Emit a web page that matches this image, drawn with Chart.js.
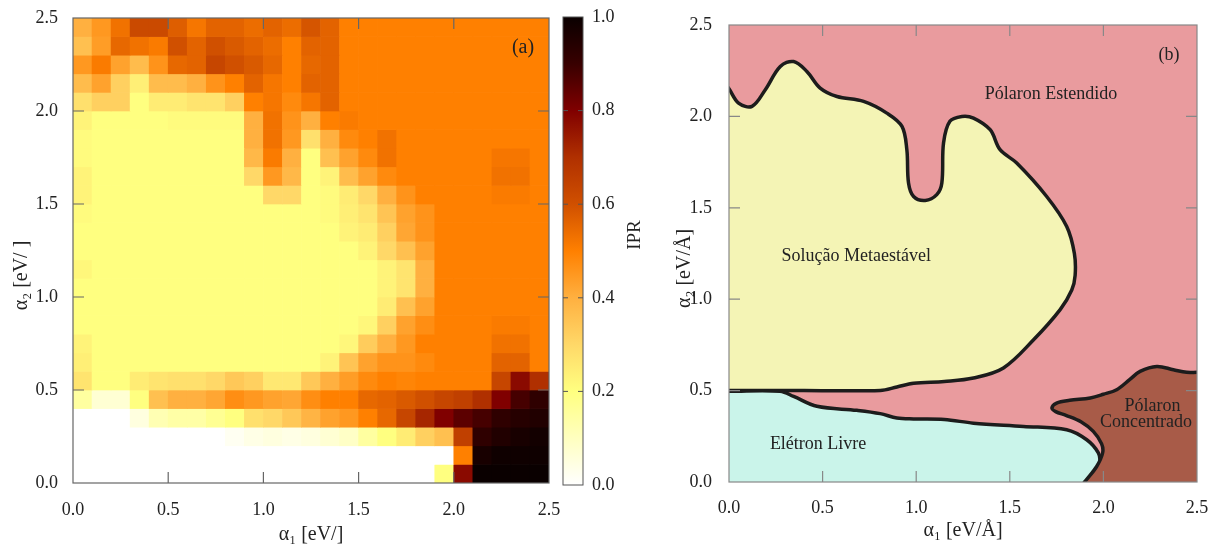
<!DOCTYPE html>
<html>
<head>
<meta charset="utf-8">
<script src="https://cdn.jsdelivr.net/npm/chart.js@4.4.0/dist/chart.umd.min.js"></script>
<style>
  body { margin: 0; background: #fff; width: 1220px; height: 547px; position: relative; overflow: hidden; }
  canvas { position: absolute; top: 0; }
  #iprMap { left: 0; }
  #iprBar { left: 550px; }
  #phases { left: 650px; }
</style>
</head>
<body>
<canvas id="iprMap" width="560" height="547"></canvas>
<canvas id="iprBar" width="120" height="547"></canvas>
<canvas id="phases" width="570" height="547"></canvas>
<script>
// cell centres of the IPR grid (0.1 x 0.1 cells)
const alpha1Cells = [0.05, 0.15, 0.25, 0.35, 0.45, 0.55, 0.65, 0.75, 0.85, 0.95, 1.05, 1.15, 1.25,
  1.35, 1.45, 1.55, 1.65, 1.75, 1.85, 1.95, 2.05, 2.15, 2.25, 2.35, 2.45];
const alpha2Cells = [2.45, 2.35, 2.25, 2.15, 2.05, 1.95, 1.85, 1.75, 1.65, 1.55, 1.45, 1.35, 1.25,
  1.15, 1.05, 0.95, 0.85, 0.75, 0.65, 0.55, 0.45, 0.35, 0.25, 0.15, 0.05];
const cellHalf = 0.05;

// IPR, one row per alpha2 cell (top row first)
const ipr = [
  [.40,.45,.53,.62,.62,.57,.52,.56,.56,.54,.56,.54,.59,.56,.50,.50,.50,.50,.50,.50,.50,.50,.50,.50,.50],
  [.36,.44,.55,.53,.51,.60,.56,.60,.58,.56,.54,.50,.56,.56,.50,.50,.50,.50,.50,.50,.50,.50,.50,.50,.50],
  [.45,.51,.43,.37,.46,.55,.56,.63,.60,.58,.55,.50,.55,.56,.50,.50,.50,.50,.50,.50,.50,.50,.50,.50,.50],
  [.37,.43,.32,.24,.37,.37,.40,.46,.50,.56,.52,.50,.56,.56,.50,.50,.50,.50,.50,.50,.50,.50,.50,.50,.50],
  [.28,.32,.32,.20,.25,.25,.27,.27,.32,.50,.52,.48,.52,.56,.50,.50,.50,.50,.50,.50,.50,.50,.50,.50,.50],
  [.23,.20,.20,.20,.20,.21,.21,.21,.21,.40,.53,.46,.40,.50,.51,.50,.50,.50,.50,.50,.50,.50,.50,.50,.50],
  [.21,.20,.20,.20,.20,.20,.20,.20,.20,.40,.53,.45,.28,.40,.48,.50,.53,.50,.50,.50,.50,.50,.50,.50,.50],
  [.21,.20,.20,.20,.20,.20,.20,.20,.20,.38,.51,.40,.20,.36,.43,.48,.53,.50,.50,.50,.50,.50,.52,.52,.50],
  [.23,.20,.20,.20,.20,.20,.20,.20,.20,.30,.45,.38,.20,.23,.37,.43,.48,.50,.50,.50,.50,.50,.53,.53,.50],
  [.23,.20,.20,.20,.20,.20,.20,.20,.20,.20,.30,.30,.20,.21,.25,.30,.40,.46,.50,.50,.50,.50,.51,.51,.50],
  [.21,.20,.20,.20,.20,.20,.20,.20,.20,.20,.20,.20,.20,.21,.24,.27,.35,.43,.46,.50,.50,.50,.50,.50,.50],
  [.20,.20,.20,.20,.20,.20,.20,.20,.20,.20,.20,.20,.20,.20,.23,.25,.32,.42,.46,.50,.50,.50,.50,.50,.50],
  [.20,.20,.20,.20,.20,.20,.20,.20,.20,.20,.20,.20,.20,.20,.20,.23,.30,.36,.43,.50,.50,.50,.50,.50,.50],
  [.22,.20,.20,.20,.20,.20,.20,.20,.20,.20,.20,.20,.20,.20,.20,.20,.23,.27,.40,.50,.50,.50,.50,.50,.50],
  [.20,.20,.20,.20,.20,.20,.20,.20,.20,.20,.20,.20,.20,.20,.20,.20,.23,.27,.40,.50,.50,.50,.50,.50,.50],
  [.20,.20,.20,.20,.20,.20,.20,.20,.20,.20,.20,.20,.20,.20,.20,.20,.25,.36,.43,.50,.50,.50,.50,.50,.50],
  [.20,.20,.20,.20,.20,.20,.20,.20,.20,.20,.20,.20,.20,.20,.20,.22,.32,.43,.47,.50,.50,.50,.51,.51,.50],
  [.23,.20,.20,.20,.20,.20,.20,.20,.20,.20,.20,.20,.20,.20,.22,.33,.40,.45,.50,.50,.50,.50,.53,.53,.50],
  [.24,.20,.20,.20,.20,.20,.20,.20,.20,.20,.20,.20,.20,.23,.35,.43,.46,.46,.48,.50,.50,.50,.56,.56,.50],
  [.27,.20,.20,.25,.27,.28,.28,.30,.34,.32,.26,.26,.34,.40,.44,.48,.50,.49,.50,.50,.50,.50,.63,.78,.70],
  [.15,.07,.07,.20,.36,.40,.40,.42,.47,.45,.43,.42,.47,.50,.50,.55,.56,.58,.60,.63,.65,.70,.80,.88,.92],
  [0,0,0,.05,.12,.14,.14,.17,.20,.28,.30,.34,.39,.43,.45,.50,.55,.63,.72,.80,.85,.88,.92,.94,.95],
  [0,0,0,0,0,0,0,0,.02,.04,.05,.04,.05,.07,.09,.15,.20,.25,.32,.36,.65,.92,.95,.97,.98],
  [0,0,0,0,0,0,0,0,0,0,0,0,0,0,0,0,0,0,0,0,.50,.97,.99,.99,.99],
  [0,0,0,0,0,0,0,0,0,0,0,0,0,0,0,0,0,0,0,.20,.78,1,1,1,1]
];
const iprTicks = [0, 0.2, 0.4, 0.6, 0.8, 1.0];

// phase boundaries of panel (b); the extra points outside 0..2.5 close each region off-axis
const metaX = [-0.05, 0, 0.051, 0.123, 0.194, 0.274, 0.345, 0.416, 0.487, 0.577, 0.719, 0.843, 0.924, 0.95,
  0.959, 0.986, 1.048, 1.11, 1.137, 1.146, 1.18, 1.244, 1.306, 1.395, 1.448, 1.537, 1.697, 1.804, 1.845,
  1.849, 1.831, 1.769, 1.627, 1.466, 1.306, 1.15, 0.986, 0.897, 0.808, 0.4, 0, -0.08];
const metaY = [2.22, 2.151, 2.073, 2.055, 2.146, 2.273, 2.30, 2.246, 2.155, 2.109, 2.082, 2.018, 1.945, 1.818,
  1.636, 1.562, 1.54, 1.572, 1.636, 1.855, 1.973, 2.0, 1.991, 1.927, 1.818, 1.745, 1.562, 1.398, 1.25,
  1.13, 1.05, 0.943, 0.778, 0.624, 0.569, 0.55, 0.54, 0.52, 0.501, 0.501, 0.501, 0.501];
const freeX = [-0.08, 0, 0.273, 0.345, 0.47, 0.683, 0.808, 0.897, 0.986, 1.15, 1.306, 1.573, 1.804, 1.911,
  1.973, 1.979, 1.947, 1.90, 1.86, -0.08];
const freeY = [0.496, 0.496, 0.496, 0.468, 0.414, 0.392, 0.374, 0.35, 0.345, 0.342, 0.322, 0.304, 0.286,
  0.231, 0.159, 0.104, 0.04, 0, -0.06, -0.06];
const concX = [1.86, 1.90, 1.964, 1.996, 1.99, 1.946, 1.88, 1.80, 1.745, 1.725, 1.75, 1.82, 1.93, 2.0, 2.071,
  2.14, 2.196, 2.285, 2.374, 2.445, 2.5, 2.6, 2.6];
const concY = [-0.06, 0, 0.085, 0.16, 0.21, 0.277, 0.33, 0.365, 0.385, 0.405, 0.432, 0.447, 0.46, 0.48, 0.505,
  0.56, 0.605, 0.632, 0.614, 0.6, 0.6, 0.6, -0.06];
const extX = [-0.1, 2.6, 2.6, -0.1];
const extY = [-0.1, -0.1, 2.6, 2.6];

const regionLabels = [
  { text: 'Pólaron Estendido', x: 1.72, y: 2.12 },
  { text: 'Solução Metaestável', x: 0.68, y: 1.233 },
  { text: 'Elétron Livre', x: 0.476, y: 0.208 },
  { text: 'Pólaron', x: 2.262, y: 0.414 },
  { text: 'Concentrado', x: 2.228, y: 0.326 }
];

const SERIF = "'Liberation Serif', 'Times New Roman', serif";
Chart.defaults.font.family = SERIF;
Chart.defaults.color = '#222';

// white -> yellow -> orange -> dark red -> black
const iprStops = [
  [0.0, [255, 255, 255]], [0.2, [255, 255, 128]], [0.3, [255, 216, 104]], [0.4, [255, 176, 64]],
  [0.5, [255, 128, 0]], [0.6, [208, 80, 0]], [0.7, [176, 48, 0]], [0.8, [128, 0, 0]],
  [0.9, [56, 0, 0]], [1.0, [10, 0, 0]]
];
function rgb(c) { return `rgb(${c[0]},${c[1]},${c[2]})`; }
function iprColor(v) {
  for (let i = 1; i < iprStops.length; i++) {
    const [v1, c1] = iprStops[i];
    if (v <= v1) {
      const [v0, c0] = iprStops[i - 1];
      const t = (v - v0) / (v1 - v0);
      return rgb(c0.map((c, k) => Math.round(c + (c1[k] - c) * t)));
    }
  }
  return rgb(iprStops[iprStops.length - 1][1]);
}

const pts = (xs, ys) => xs.map((x, i) => ({ x, y: ys[i] }));
const fmt = v => Number(v).toFixed(1);

// box + inward tick marks, gnuplot style
const frameTicks = {
  id: 'frameTicks',
  afterDatasetsDraw(chart, args, opts) {
    const { ctx, chartArea: a, scales } = chart;
    ctx.save();
    ctx.strokeStyle = opts.color;
    ctx.lineWidth = opts.width;
    ctx.beginPath();
    opts.axes.forEach(id => {
      const s = scales[id];
      s.ticks.forEach(t => {
        const p = s.getPixelForValue(t.value);
        if (s.isHorizontal()) {
          if (p < a.left + 2 || p > a.right - 2) return;
          ctx.moveTo(p, a.bottom); ctx.lineTo(p, a.bottom - opts.length);
          ctx.moveTo(p, a.top); ctx.lineTo(p, a.top + opts.length);
        } else {
          if (p < a.top + 2 || p > a.bottom - 2) return;
          ctx.moveTo(a.left, p); ctx.lineTo(a.left + opts.length, p);
          ctx.moveTo(a.right, p); ctx.lineTo(a.right - opts.length, p);
        }
      });
    });
    ctx.stroke();
    ctx.strokeRect(a.left, a.top, a.right - a.left, a.bottom - a.top);
    ctx.restore();
  }
};

// free text: either in data units (x/y) or offset from the top-right corner (dx/dy)
const notes = {
  id: 'notes',
  afterDraw(chart, args, opts) {
    const { ctx, chartArea: a, scales } = chart;
    ctx.save();
    ctx.font = opts.font;
    ctx.fillStyle = '#222';
    ctx.textAlign = 'center';
    ctx.textBaseline = 'middle';
    opts.items.forEach(it => {
      let px, py;
      if (it.dx !== undefined) { px = a.right - it.dx; py = a.top + it.dy; }
      else { px = scales.x.getPixelForValue(it.x); py = scales.y.getPixelForValue(it.y); }
      if (it.rotate) {
        ctx.save(); ctx.translate(px, py); ctx.rotate(it.rotate); ctx.fillText(it.text, 0, 0); ctx.restore();
      } else {
        ctx.fillText(it.text, px, py);
      }
    });
    ctx.restore();
  }
};

// fixed axis box; edge labels may overhang the plot instead of shrinking it
function fixBox(w, h) {
  return s => {
    if (w !== undefined) s.width = w;
    if (h !== undefined) s.height = h;
    s.paddingLeft = s.paddingRight = s.paddingTop = s.paddingBottom = 0;
  };
}

function axis(opts) {
  return {
    type: 'linear', min: 0, max: opts.max, offset: false, position: opts.position,
    grid: { display: false, drawTicks: false }, border: { display: false },
    ticks: { stepSize: opts.step, padding: opts.pad, font: { size: 18 }, color: '#222', callback: fmt },
    title: opts.title ? { display: true, text: opts.title, font: { size: 20 }, color: '#222', padding: opts.titlePad } : { display: false },
    afterFit: opts.fit
  };
}

// (a) IPR map
new Chart(document.getElementById('iprMap'), {
  type: 'bar',
  data: {
    datasets: alpha2Cells.map((a2, r) => ({
      data: alpha1Cells.map(a1 => ({ x: a1, y: [a2 - cellHalf, a2 + cellHalf] })),
      backgroundColor: ipr[r].map(iprColor),
      grouped: false,
      barPercentage: 1,
      categoryPercentage: 1,
      borderWidth: 0
    }))
  },
  plugins: [frameTicks, notes],
  options: {
    responsive: false,
    animation: false,
    layout: { padding: { top: 18, right: 11, left: 0, bottom: 0 } },
    plugins: {
      legend: { display: false },
      tooltip: { enabled: false },
      frameTicks: { axes: ['x', 'y'], color: '#666', width: 1.2, length: 11 },
      notes: { font: `20px ${SERIF}`, items: [{ text: '(a)', dx: 26, dy: 30 }] }
    },
    scales: {
      x: axis({ max: 2.5, step: 0.5, pad: 16, title: 'α₁ [eV/]', titlePad: { top: 0, bottom: 0 }, fit: fixBox(undefined, 64) }),
      // trailing blanks push the rotated title a little below the axis centre
      y: axis({ max: 2.5, step: 0.5, pad: 15, title: 'α₂ [eV/ ]          ', titlePad: { top: 10, bottom: 0 }, fit: fixBox(73) })
    }
  }
});

// colour scale of the map
new Chart(document.getElementById('iprBar'), {
  type: 'bar',
  data: {
    labels: ['IPR'],
    datasets: [{
      data: [[iprTicks[0], iprTicks[iprTicks.length - 1]]],
      backgroundColor: ctx => {
        const { chart } = ctx;
        if (!chart.chartArea) return '#fff';
        const ys = chart.scales.y;
        const g = chart.ctx.createLinearGradient(0, ys.getPixelForValue(0), 0, ys.getPixelForValue(1));
        iprStops.forEach(([v, c]) => g.addColorStop(v, rgb(c)));
        return g;
      },
      barPercentage: 1,
      categoryPercentage: 1,
      borderWidth: 0
    }]
  },
  plugins: [frameTicks, notes],
  options: {
    responsive: false,
    animation: false,
    layout: { padding: { top: 17, right: 0, left: 13, bottom: 62 } },
    plugins: {
      legend: { display: false },
      tooltip: { enabled: false },
      frameTicks: { axes: ['y'], color: '#555', width: 1, length: 5 },
      notes: { font: `19px ${SERIF}`, items: [{ text: 'IPR', dx: -52, dy: 218, rotate: -Math.PI / 2 }] }
    },
    scales: {
      x: { display: false },
      y: axis({ max: 1, step: 0.2, pad: 9, position: 'right', fit: fixBox(87) })
    }
  }
});

// (b) phase diagram
const region = (xs, ys, fill, order, border) => ({
  data: pts(xs, ys),
  showLine: true,
  fill: 'shape',
  backgroundColor: fill,
  borderColor: '#1c1c1c',
  borderWidth: border,
  borderJoinStyle: 'round',
  tension: border ? 0.35 : 0,
  pointRadius: 0,
  clip: 0,
  order
});

new Chart(document.getElementById('phases'), {
  type: 'scatter',
  data: {
    datasets: [
      region(concX, concY, 'rgb(168,91,72)', 1, 3.5),
      region(freeX, freeY, 'rgb(202,244,234)', 2, 3.5),
      region(metaX, metaY, 'rgb(244,244,181)', 3, 3.5),
      region(extX, extY, 'rgb(233,155,158)', 4, 0)
    ]
  },
  plugins: [frameTicks, notes],
  options: {
    responsive: false,
    animation: false,
    layout: { padding: { top: 25, right: 23, left: 0, bottom: 0 } },
    elements: { line: { capBezierPoints: false } },
    plugins: {
      legend: { display: false },
      tooltip: { enabled: false },
      frameTicks: { axes: ['x', 'y'], color: '#888', width: 1.2, length: 11 },
      notes: {
        font: `18px ${SERIF}`,
        items: regionLabels.concat([{ text: '(b)', dx: 28, dy: 30 }])
      }
    },
    scales: {
      x: axis({ max: 2.5, step: 0.5, pad: 15, title: 'α₁ [eV/Å]', titlePad: { top: 0, bottom: 4 }, fit: fixBox(undefined, 65) }),
      y: axis({ max: 2.5, step: 0.5, pad: 17, title: 'α₂ [eV/Å]      ', titlePad: { top: 23, bottom: 0 }, fit: fixBox(79) })
    }
  }
});
</script>
</body>
</html>
